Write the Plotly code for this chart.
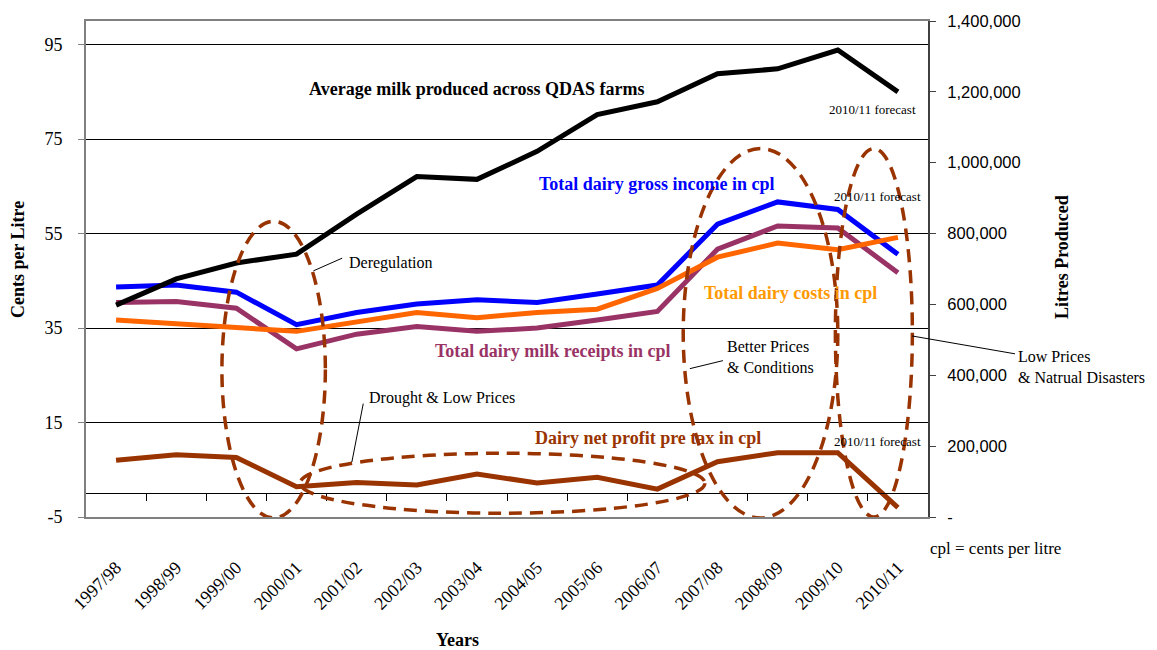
import plotly.graph_objects as go

# ---- data -------------------------------------------------------------
years = ["1997/98", "1998/99", "1999/00", "2000/01", "2001/02", "2002/03",
         "2003/04", "2004/05", "2005/06", "2006/07", "2007/08", "2008/09",
         "2009/10", "2010/11"]

# litres per farm (right axis)
milk_litres = [598000, 672000, 717000, 742000, 855000, 961000, 953000,
               1032000, 1136000, 1172000, 1251000, 1265000, 1318000, 1200000]

# cents per litre (left axis)
gross_income = [43.7, 44.1, 42.6, 35.7, 38.3, 40.1, 41.0, 40.4, 42.2, 44.1,
                57.0, 61.7, 60.1, 50.6]
milk_receipts = [40.4, 40.6, 39.2, 30.6, 33.7, 35.3, 34.3, 35.0, 36.7, 38.5,
                 51.7, 56.6, 56.2, 46.7]
dairy_costs = [36.7, 36.0, 35.1, 34.3, 36.2, 38.3, 37.2, 38.3, 39.0, 43.4,
               50.0, 53.0, 51.6, 54.2]
net_profit = [7.0, 8.2, 7.6, 1.4, 2.3, 1.8, 4.1, 2.2, 3.4, 0.9,
              6.7, 8.6, 8.6, -3.0]

left_ticks = [-5, 15, 35, 55, 75, 95]
left_tick_text = ["-5", "15", "35", "55", "75", "95"]
right_ticks = [0, 200000, 400000, 600000, 800000, 1000000, 1200000, 1400000]
right_tick_text = ["-", "200,000", "400,000", "600,000", "800,000",
                   "1,000,000", "1,200,000", "1,400,000"]

# ---- styling ----------------------------------------------------------
SERIF = "Liberation Serif"
SANS = "Liberation Sans"
BLACK = "#000000"
BLUE = "#0000FF"
PURPLE = "#993366"
ORANGE = "#FF6600"
ORANGE_TEXT = "#FF9900"
BROWN = "#993300"
FRAME = "#808080"
LW = 5

fig = go.Figure()

fig.add_trace(go.Scatter(x=years, y=gross_income, mode="lines",
                         line=dict(color=BLUE, width=LW), name="Gross income"))
fig.add_trace(go.Scatter(x=years, y=milk_receipts, mode="lines",
                         line=dict(color=PURPLE, width=LW), name="Milk receipts"))
fig.add_trace(go.Scatter(x=years, y=dairy_costs, mode="lines",
                         line=dict(color=ORANGE, width=LW), name="Costs"))
fig.add_trace(go.Scatter(x=years, y=net_profit, mode="lines",
                         line=dict(color=BROWN, width=LW), name="Net profit"))
fig.add_trace(go.Scatter(x=years, y=milk_litres, mode="lines", yaxis="y2",
                         line=dict(color=BLACK, width=LW), name="Milk produced"))
# carrier for the category-boundary axis drawn along zero
fig.add_trace(go.Scatter(x=[None], y=[None], xaxis="x2", yaxis="y",
                         mode="lines", hoverinfo="skip", showlegend=False))

n = len(years)

fig.update_layout(
    width=1157, height=650,
    margin=dict(l=86, r=229, t=19, b=133),
    paper_bgcolor="white", plot_bgcolor="white",
    showlegend=False,
    font=dict(family=SERIF, color=BLACK, size=16),
    xaxis=dict(
        type="category", range=[-0.5, n - 0.5],
        showgrid=False, zeroline=False,
        showline=True, linecolor=FRAME, linewidth=2, mirror=True,
        ticks="", tickangle=-45, ticklabelstandoff=31,
        tickfont=dict(family=SERIF, size=18, color=BLACK),
    ),
    xaxis2=dict(
        type="linear", overlaying="x", anchor="free", position=5 / 105,
        range=[-0.5, n - 0.5],
        tickvals=[i + 0.5 for i in range(n - 1)],
        ticks="outside", ticklen=7, tickcolor=BLACK, tickwidth=1,
        showticklabels=False, showgrid=False, zeroline=False,
        showline=True, linecolor=BLACK, linewidth=1,
    ),
    yaxis=dict(
        range=[-5, 100], tickvals=left_ticks, ticktext=left_tick_text,
        showgrid=True, gridcolor=BLACK, gridwidth=1, zeroline=False,
        showline=True, linecolor=FRAME, linewidth=2,
        ticks="outside", ticklen=6, tickcolor=FRAME,
        ticklabelstandoff=12,
        tickfont=dict(family=SERIF, size=18, color=BLACK),
    ),
    yaxis2=dict(
        overlaying="y", side="right", range=[0, 1400000],
        tickvals=right_ticks, ticktext=right_tick_text,
        showgrid=False, zeroline=False,
        showline=True, linecolor="#404040", linewidth=2,
        ticks="outside", ticklen=6, tickcolor="#404040",
        ticklabelstandoff=8,
        tickfont=dict(family=SANS, size=16.5, color=BLACK),
    ),
)

# ---- highlighted periods (dashed ellipses) ----------------------------
dash = "13px,8px"
periods = [
    (1.76, 3.48, -5.2, 57.6),   # deregulation
    (3.06, 9.79, -4.2, 8.5),    # drought & low prices
    (9.43, 12.0, -5.2, 73.0),   # better prices & conditions
    (11.96, 13.24, -5.0, 73.0), # low prices & natural disasters
]
for x0, x1, y0, y1 in periods:
    fig.add_shape(type="circle", xref="x", yref="y", x0=x0, x1=x1, y0=y0, y1=y1,
                  line=dict(color=BROWN, width=3.5, dash=dash), layer="above")

# ---- leader lines -----------------------------------------------------
leaders = [
    (3.28, 47.1, 3.76, 49.8),   # Deregulation
    (9.54, 26.4, 10.09, 28.1),  # Better Prices
    (3.92, 6.6, 4.11, 19.0),    # Drought
]
for x0, y0, x1, y1 in leaders:
    fig.add_shape(type="line", xref="x", yref="y", x0=x0, y0=y0, x1=x1, y1=y1,
                  line=dict(color=BLACK, width=1))
fig.add_shape(type="line", xref="paper", yref="paper",
              x0=0.981, y0=0.365, x1=1.1033, y1=0.329,
              line=dict(color=BLACK, width=1))


def note(text, x, y, size=16, color=BLACK, bold=False, xanchor="center",
         xref="x", yref="y", align="left", angle=0):
    if bold:
        text = "<b>" + text + "</b>"
    fig.add_annotation(text=text, x=x, y=y, xref=xref, yref=yref,
                       showarrow=False, xanchor=xanchor, yanchor="middle",
                       align=align, textangle=angle,
                       font=dict(family=SERIF, size=size, color=color))


# series labels
note("Average milk produced across QDAS farms", 6.0, 85.7, size=18, bold=True)
note("Total dairy gross income in cpl", 8.99, 65.4, size=18, color=BLUE, bold=True)
note("Total dairy costs in cpl", 9.74, 42.4, size=18, color=ORANGE_TEXT,
     bold=True, xanchor="left")
note("Total dairy milk receipts in cpl", 7.27, 30.2, size=18, color=PURPLE, bold=True)
note("Dairy net profit pre tax in cpl", 8.85, 11.7, size=18, color=BROWN, bold=True)

# forecast notes
note("2010/11 forecast", 13.34, 81.2, size=13, xanchor="right")
note("2010/11 forecast", 13.42, 62.9, size=13, xanchor="right")
note("2010/11 forecast", 13.42, 11.0, size=13, xanchor="right")

# period notes
note("Deregulation", 3.84, 48.8, xanchor="left")
note("Better Prices<br>& Conditions", 10.12, 28.8, xanchor="left")
note("Drought & Low Prices", 4.17, 20.1, xanchor="left")
note("Low Prices<br>& Natrual Disasters", 1.1045, 0.303, xanchor="left",
     xref="paper", yref="paper")
note("cpl = cents per litre", 1.0, -0.064, size=17, xanchor="left",
     xref="paper", yref="paper")

# axis titles
note("Cents per Litre", -0.0808, 0.52, size=18, bold=True,
     xref="paper", yref="paper", angle=-90)
note("Litres Produced", 1.159, 0.524, size=18, bold=True,
     xref="paper", yref="paper", angle=-90)
note("Years", 0.4418, -0.247, size=18, bold=True, xref="paper", yref="paper")

fig.write_html("out.html")
